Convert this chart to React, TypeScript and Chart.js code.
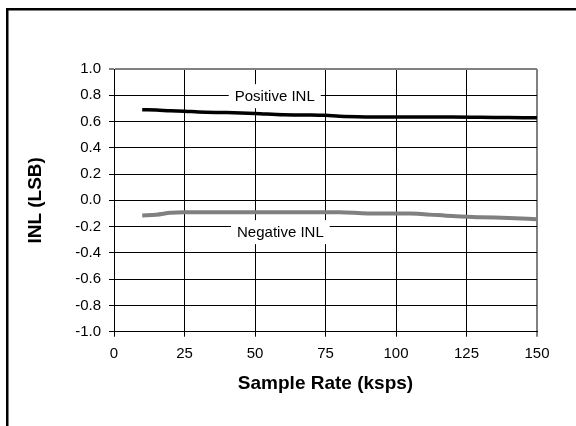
import React, { useEffect, useRef } from "react";
import { Chart, registerables } from "chart.js";

Chart.register(...registerables);

const sampleRates = [10, 15, 20, 25, 30, 40, 50, 60, 70, 75, 80, 90, 100, 105, 110, 120, 130, 140, 150];
const positiveINL = [0.69, 0.688, 0.682, 0.679, 0.672, 0.668, 0.662, 0.652, 0.65, 0.647, 0.64, 0.635, 0.634, 0.634, 0.634, 0.634, 0.632, 0.63, 0.628];
const negativeINL = [-0.115, -0.11, -0.095, -0.09, -0.09, -0.09, -0.09, -0.09, -0.09, -0.09, -0.09, -0.1, -0.1, -0.1, -0.105, -0.12, -0.128, -0.135, -0.143];

const seriesNames = ["Positive INL", "Negative INL"];
const labelAnchors = [
  { text: "Positive INL", x: 57, y: 0.793 },
  { text: "Negative INL", x: 59, y: -0.242 },
];

const FONT = '"Liberation Sans", Arial, sans-serif';

const framePlugin = {
  id: "frame",
  beforeDraw(chart: any) {
    const { ctx, width, height } = chart;
    ctx.save();
    ctx.fillStyle = "#fff";
    ctx.fillRect(0, 0, width, height);
    ctx.fillStyle = "#000";
    ctx.fillRect(6, 8, 2.5, height);
    ctx.fillRect(6, 8, width, 2.5);
    ctx.restore();
  },
};

const labelPlugin = {
  id: "inlLabels",
  beforeDatasetsDraw(chart: any) {
    const { ctx } = chart;
    const xs = chart.scales.x;
    const ys = chart.scales.y;
    ctx.save();
    ctx.font = `15px ${FONT}`;
    ctx.textAlign = "center";
    ctx.textBaseline = "middle";
    for (const a of labelAnchors) {
      const px = xs.getPixelForValue(a.x);
      const py = ys.getPixelForValue(a.y);
      const w = ctx.measureText(a.text).width + 12;
      ctx.fillStyle = "#fff";
      ctx.fillRect(px - w / 2, py - 12, w, 24);
      ctx.fillStyle = "#000";
      ctx.fillText(a.text, px, py + 1);
    }
    ctx.restore();
  },
};

export default function App() {
  const ref = useRef<HTMLCanvasElement | null>(null);
  useEffect(() => {
    if (!ref.current) return;
    const chart = new Chart(ref.current, {
      type: "line",
      data: {
        datasets: [
          {
            label: seriesNames[0],
            data: sampleRates.map((x, i) => ({ x, y: positiveINL[i] })),
            borderColor: "#000",
            borderWidth: 3.5,
            pointRadius: 0,
            cubicInterpolationMode: "monotone",
            fill: false,
          },
          {
            label: seriesNames[1],
            data: sampleRates.map((x, i) => ({ x, y: negativeINL[i] })),
            borderColor: "#808080",
            borderWidth: 4,
            pointRadius: 0,
            cubicInterpolationMode: "monotone",
            fill: false,
          },
        ],
      },
      options: {
        animation: false,
        responsive: true,
        maintainAspectRatio: false,
        layout: { padding: { left: 0, top: 69, right: 39, bottom: 30.6 } },
        plugins: { legend: { display: false }, tooltip: { enabled: false } },
        scales: {
          x: {
            type: "linear",
            min: 0,
            max: 150,
            ticks: { stepSize: 25, color: "#000", font: { family: FONT, size: 15 }, padding: 8 },
            grid: {
              color: (c: any) => (c.index === 6 ? "#808080" : "#000"),
              lineWidth: (c: any) => (c.index === 6 ? 2 : 1),
              tickLength: 5,
            },
            border: { color: "#000", width: 1 },
            title: {
              display: true,
              text: "Sample Rate (ksps)",
              color: "#000",
              font: { family: FONT, size: 19, weight: "bold" },
              padding: { top: 0, bottom: 0 },
            },
            afterFit: (s: any) => {
              s.height = 63.7;
            },
          },
          y: {
            type: "linear",
            min: -1,
            max: 1,
            ticks: {
              stepSize: 0.2,
              color: "#000",
              font: { family: FONT, size: 15 },
              padding: 8,
              callback: (v: any) => (Math.abs(Number(v)) < 1e-9 ? "0.0" : Number(v).toFixed(1)),
            },
            grid: {
              color: (c: any) => (c.index === 10 ? "#808080" : "#000"),
              lineWidth: (c: any) => (c.index === 10 ? 2 : 1),
              tickLength: 5,
            },
            border: { color: "#000", width: 1 },
            title: {
              display: true,
              text: "INL (LSB)",
              color: "#000",
              font: { family: FONT, size: 19, weight: "bold" },
              padding: { top: 24.6, bottom: 0 },
            },
            afterFit: (s: any) => {
              s.width = 114;
            },
          },
        },
      },
      plugins: [framePlugin, labelPlugin],
    } as any);
    return () => chart.destroy();
  }, []);
  return (
    <div style={{ position: "absolute", left: 0, top: 0, width: 576, height: 426, background: "#fff" }}>
      <canvas ref={ref} />
    </div>
  );
}
